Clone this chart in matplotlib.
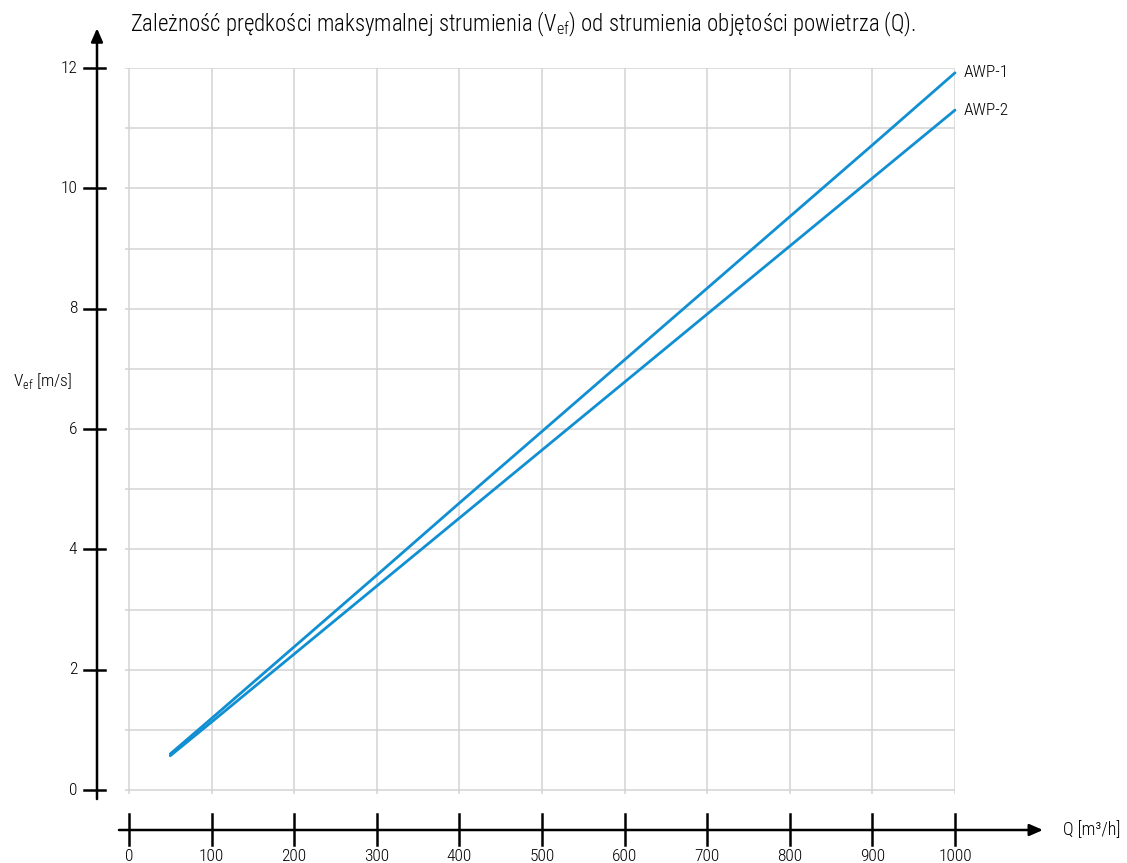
import numpy as np
import matplotlib
matplotlib.use("Agg")
import matplotlib.pyplot as plt
import matplotlib.font_manager as fm
from matplotlib.transforms import blended_transform_factory

# data
q = [50, 100, 200, 300, 400, 500, 600, 700, 800, 900, 1000]
awp1 = [0.60, 1.19, 2.38, 3.57, 4.77, 5.96, 7.15, 8.34, 9.53, 10.72, 11.92]
awp2 = [0.57, 1.13, 2.26, 3.39, 4.52, 5.65, 6.78, 7.91, 9.04, 10.17, 11.30]
series_names = ["AWP-1", "AWP-2"]
x_ticks = [0, 100, 200, 300, 400, 500, 600, 700, 800, 900, 1000]
y_ticks = [0, 2, 4, 6, 8, 10, 12]
title = "Zależność prędkości maksymalnej strumienia (V$_{\\mathregular{ef}}$) od strumienia objętości powietrza (Q)."

# pick a narrow font if one is installed
names = {f.name for f in fm.fontManager.ttflist}
font = "Roboto"
stretch = "normal"
for cand in ["Roboto Condensed", "Liberation Sans Narrow", "Open Sans Condensed"]:
    if cand in names:
        font = cand
        break
else:
    if any(f.name == "DejaVu Sans" and f.stretch == "condensed" for f in fm.fontManager.ttflist):
        font = "DejaVu Sans"
        stretch = "condensed"
plt.rcParams["font.family"] = [font, "DejaVu Sans"]
plt.rcParams["font.stretch"] = stretch
plt.rcParams["font.weight"] = "light"
plt.rcParams["mathtext.fontset"] = "custom"
plt.rcParams["mathtext.rm"] = font + ":light"

W, H = 1127, 863
fig = plt.figure(figsize=(W / 100, H / 100), dpi=100)
# plot area in pixels: x 125..955, y 68..794
ax = fig.add_axes([125 / W, 1 - 794 / H, 830 / W, 726 / H])
ax.set_xlim(-4.8, 1000)
ax.set_ylim(-0.066, 12)
ax.set_xticks(x_ticks)
ax.set_yticks(np.arange(0, 13, 1))
ax.grid(True, color="#d3d3d3", lw=1.1)
ax.tick_params(length=0, labelbottom=False, labelleft=False)
for s in ax.spines.values():
    s.set_visible(False)

blue = "#108fd2"
ax.plot(q, awp1, color=blue, lw=2.0, solid_capstyle="round", clip_on=False)
ax.plot(q, awp2, color=blue, lw=2.0, solid_capstyle="round", clip_on=False)
for vals, name in zip([awp1, awp2], series_names):
    ax.annotate(name, (q[-1], vals[-1]), xytext=(6.5, 0), textcoords="offset points",
                va="center", ha="left", fontsize=12.5)

# y axis with arrow, in axes-fraction x / data y
ty = blended_transform_factory(ax.transAxes, ax.transData)
yx = (97 - 125) / 830
ax.annotate("", xy=(yx, 12.66), xytext=(yx, -0.15), xycoords=ty, textcoords=ty,
            arrowprops=dict(arrowstyle="-|>,head_length=0.8,head_width=0.35", color="black", lw=1.8,
                            shrinkA=0, shrinkB=0), annotation_clip=False)
for t in y_ticks:
    ax.plot([(84 - 125) / 830, (105 - 125) / 830], [t, t], color="black", lw=1.8,
            transform=ty, clip_on=False)
    ax.text((77 - 125) / 830, t, str(t), transform=ty, ha="right", va="center", fontsize=12.5)
ax.text((13 - 125) / 830, 6.8, "V$_{\\mathregular{ef}}$ [m/s]", transform=ty, ha="left", va="center",
        fontsize=12.5)

# x axis with arrow, in data x / axes-fraction y
tx = blended_transform_factory(ax.transData, ax.transAxes)
xy_ = (794 - 830) / 726
ax.annotate("", xy=(1106.5, xy_), xytext=(-12.1, xy_), xycoords=tx, textcoords=tx,
            arrowprops=dict(arrowstyle="-|>,head_length=0.8,head_width=0.35", color="black", lw=1.8,
                            shrinkA=0, shrinkB=0), annotation_clip=False)
for t in x_ticks:
    ax.plot([t, t], [(794 - 814) / 726, (794 - 845) / 726], color="black", lw=1.8,
            transform=tx, clip_on=False)
    ax.text(t, (794 - 849) / 726, str(t), transform=tx, ha="center", va="top", fontsize=12.5)
ax.text(1130.8, xy_, "Q [m³/h]", transform=tx, ha="left", va="center", fontsize=13)

fig.text(130 / W, 1 - 24 / H, title, ha="left", va="center", fontsize=16.4)

fig.savefig("out.png", dpi=100)
